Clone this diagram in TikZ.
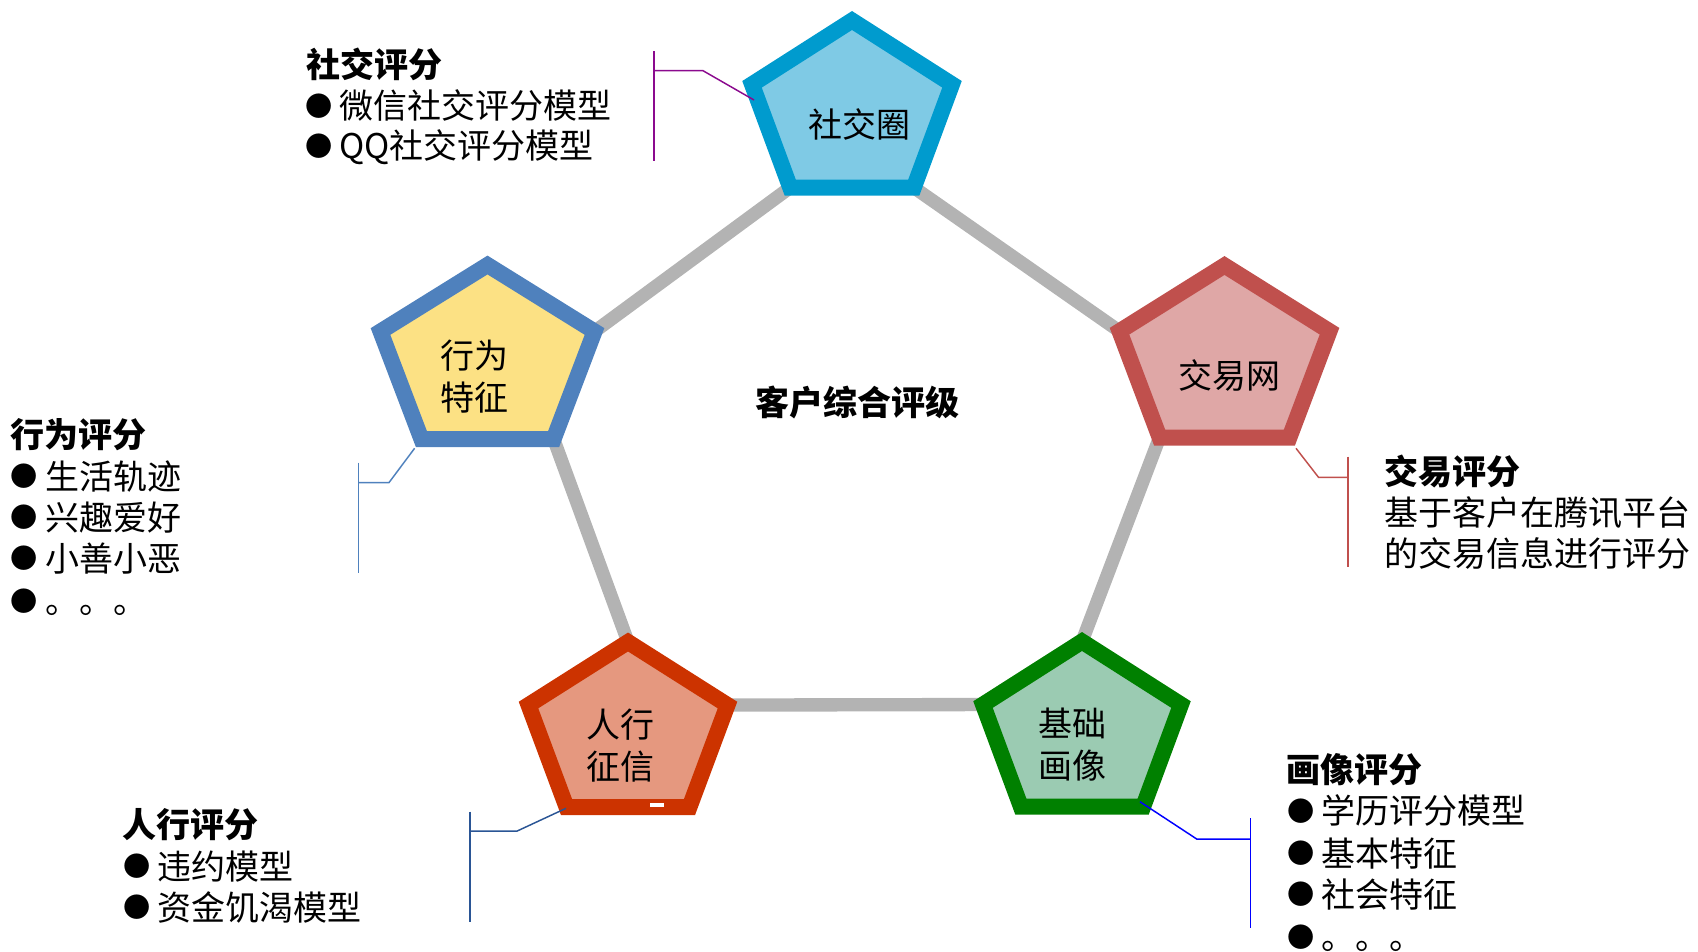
\documentclass[tikz,border=0pt]{standalone}
\usepackage{fontspec}
\setmainfont{Noto Sans CJK SC}
\definecolor{socF}{HTML}{7FCAE5}
\definecolor{socD}{HTML}{009BCE}
\definecolor{trdF}{HTML}{DFA7A6}
\definecolor{trdD}{HTML}{C0504D}
\definecolor{behF}{HTML}{FCE184}
\definecolor{behD}{HTML}{4F81BD}
\definecolor{pbcF}{HTML}{E5987F}
\definecolor{pbcD}{HTML}{CC3300}
\definecolor{basF}{HTML}{9BCBB2}
\definecolor{basD}{HTML}{008000}
\definecolor{linkgrey}{HTML}{B3B3B3}
\definecolor{purp}{HTML}{8B0A8E}
\definecolor{navyb}{HTML}{2A5595}
\definecolor{bblue}{HTML}{0000FF}
\newcommand\pentdef[5]{%
  \coordinate (#1-t) at (#2,#3);
  \coordinate (#1-l) at ({#2-#4/2},{#3+0.382*#5});
  \coordinate (#1-r) at ({#2+#4/2},{#3+0.382*#5});
  \coordinate (#1-bl) at ({#2-0.309*#4},{#3+#5});
  \coordinate (#1-br) at ({#2+0.309*#4},{#3+#5});}
\newcommand\pentdraw[3]{\draw[pentline,draw=#3,fill=#2] (#1-t) -- (#1-r) -- (#1-br) -- (#1-bl) -- (#1-l) -- cycle;}
\newcommand\bul{\makebox[1em][l]{\raisebox{0.08em}{\scalebox{0.8}{●}}}}
\begin{document}
\begin{tikzpicture}[x=0.75pt,y=-0.75pt,
  every node/.style={inner sep=0pt,outer sep=0pt,font=\fontsize{25.5}{31}\selectfont},
  lbl/.style={text height=22.4pt,text depth=3.1pt},
  txt/.style={lbl,anchor=west},
  head/.style={txt,font=\fontsize{25.5}{31}\selectfont\bfseries},
  pentline/.style={line width=12pt,line join=miter},
  linkline/.style={draw=linkgrey,line width=10pt},
  callout/.style={line width=1.1pt}]
\useasboundingbox (0,0) rectangle (1698,951);
% pentagon geometry
\pentdef{soc}{852}{20.5}{200}{167}
\pentdef{trd}{1224.5}{265.5}{210}{172}
\pentdef{beh}{487.5}{265}{214}{174}
\pentdef{pbc}{628}{642}{199}{165}
\pentdef{bas}{1082}{641.5}{198}{165}
% grey ring
\draw[linkline] (soc-bl) -- (beh-r);
\draw[linkline] (soc-br) -- (trd-l);
\draw[linkline] (beh-br) -- (pbc-t);
\draw[linkline] (trd-bl) -- (bas-t);
\draw[linkline] (pbc-r) -- (bas-l);
% pentagons
\pentdraw{soc}{socF}{socD}
\pentdraw{trd}{trdF}{trdD}
\pentdraw{beh}{behF}{behD}
\pentdraw{pbc}{pbcF}{pbcD}
\pentdraw{bas}{basF}{basD}
\fill[white] (650,802.5) rectangle (664,806.5);
% pentagon labels
\node[lbl] (socL) at (859,124.5) {社交圈};
\node[lbl] (trdL) at (1229,376) {交易网};
\node[align=center] (behL) at (474.4,376.5) {行为\\特征};
\node[align=center] (pbcL) at (620.6,745.5) {人行\\征信};
\node[align=center] (basL) at (1072,744.5) {基础\\画像};
\node[lbl,font=\fontsize{25.5}{31}\selectfont\bfseries] (center) at (857.7,403) {客户综合评级};
% callout lines
\coordinate (s1) at (654,51); \coordinate (s2) at (654,161);
\coordinate (s3) at (654,70.7); \coordinate (s4) at (703,70.7); \coordinate (s5) at (754,100);
\draw[callout,purp] (s1) -- (s2); \draw[callout,purp] (s3) -- (s4) -- (s5);
\coordinate (b1) at (358.6,462.7); \coordinate (b2) at (358.6,572.7);
\coordinate (b3) at (358.6,482.7); \coordinate (b4) at (388.9,482.7); \coordinate (b5) at (414.6,448.3);
\draw[callout,behD] (b1) -- (b2); \draw[callout,behD] (b3) -- (b4) -- (b5);
\coordinate (t1) at (1348,456.7); \coordinate (t2) at (1348,566.7);
\coordinate (t3) at (1348,477.3); \coordinate (t4) at (1318.5,477.3); \coordinate (t5) at (1296,448.3);
\draw[callout,trdD] (t1) -- (t2); \draw[callout,trdD] (t3) -- (t4) -- (t5);
\coordinate (p1) at (470,811.7); \coordinate (p2) at (470,921.7);
\coordinate (p3) at (470,831); \coordinate (p4) at (517.2,831); \coordinate (p5) at (566,808.3);
\draw[callout,navyb] (p1) -- (p2); \draw[callout,navyb] (p3) -- (p4) -- (p5);
\coordinate (q1) at (1250.6,818.3); \coordinate (q2) at (1250.6,928.3);
\coordinate (q3) at (1250.6,839); \coordinate (q4) at (1196.7,839); \coordinate (q5) at (1139.9,801.7);
\draw[callout,bblue] (q1) -- (q2); \draw[callout,bblue] (q3) -- (q4) -- (q5);
% text blocks
\node[head] (h1) at (306,65) {社交评分};
\node[txt] (h1a) at (305,106) {\bul 微信社交评分模型};
\node[txt] (h1b) at (305,146) {\bul QQ社交评分模型};
\node[head] (h3) at (10.8,435) {行为评分};
\node[txt] (h3a) at (11,476.5) {\bul 生活轨迹};
\node[txt] (h3b) at (11,517.7) {\bul 兴趣爱好};
\node[txt] (h3c) at (11,558.8) {\bul 小善小恶};
\node[txt] (h3d) at (11,601) {\bul 。。。};
\node[head] (h2) at (1384,472) {交易评分};
\node[txt] (h2a) at (1384,513) {基于客户在腾讯平台};
\node[txt] (h2b) at (1384,553.5) {的交易信息进行评分};
\node[head] (h4) at (122.4,825) {人行评分};
\node[txt] (h4a) at (123,866.5) {\bul 违约模型};
\node[txt] (h4b) at (123,907.5) {\bul 资金饥渴模型};
\node[head] (h5) at (1286.6,770) {画像评分};
\node[txt] (h5a) at (1287,811) {\bul 学历评分模型};
\node[txt] (h5b) at (1287,853.4) {\bul 基本特征};
\node[txt] (h5c) at (1287,894.6) {\bul 社会特征};
\node[txt] (h5d) at (1287,937) {\bul 。。。};
\end{tikzpicture}
\end{document}
